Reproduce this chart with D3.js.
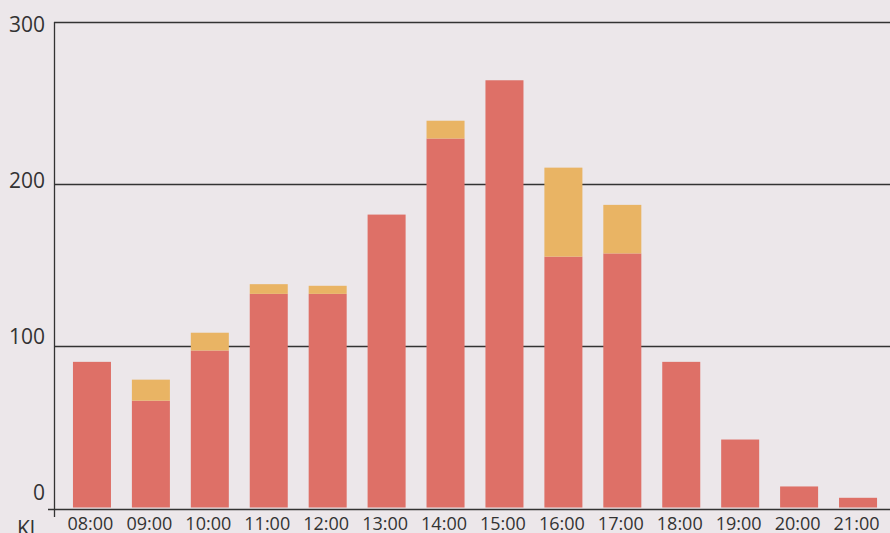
<!DOCTYPE html>
<html>
<head>
<meta charset="utf-8">
<script src="https://cdn.jsdelivr.net/npm/d3@7"></script>
<style>
  html, body { margin: 0; padding: 0; background: #ece7ea; }
  svg { display: block; }
  text { font-family: "Open Sans", sans-serif; fill: #333; }
</style>
</head>
<body>
<svg id="chart" width="890" height="533"></svg>
<script>
const categories = ["08:00","09:00","10:00","11:00","12:00","13:00","14:00","15:00","16:00","17:00","18:00","19:00","20:00","21:00"];
const seriesA = [90, 66, 97, 132, 132, 181, 228, 264, 155, 157, 90, 42, 13, 6];
const seriesB = [0, 13, 11, 6, 5, 0, 11, 0, 55, 30, 0, 0, 0, 0];
const yTicks = [0, 100, 200, 300];
const xAxisTitle = "Kl";

const colors = { a: "#de7067", b: "#e9b464", line: "#333" };
const W = 890, H = 533;
const svg = d3.select("#chart");

const x = d3.scaleBand().domain(categories).range([62.5, 887.5]).paddingInner(0.355).paddingOuter(0.1775);
const y = d3.scaleLinear().domain([0, 300]).range([507.5, 22]);
const yLabel = d3.scaleLinear().domain([0, 300]).range([499.7, 32.3]);

// gridlines
svg.append("g").selectAll("line").data(yTicks.filter(d => d > 0)).join("line")
  .attr("x1", 54).attr("x2", W)
  .attr("y1", d => Math.round(y(d)) + 0.5).attr("y2", d => Math.round(y(d)) + 0.5)
  .attr("stroke", colors.line).attr("stroke-width", 1.3);

// stacked bars
const data = categories.map((c, i) => ({ c, a: seriesA[i], b: seriesB[i] }));
const stack = d3.stack().keys(["a", "b"])(data);
svg.append("g").selectAll("g").data(stack).join("g")
  .attr("fill", d => colors[d.key])
  .selectAll("rect").data(d => d).join("rect")
  .attr("x", d => x(d.data.c))
  .attr("width", x.bandwidth())
  .attr("y", d => y(d[1]))
  .attr("height", d => Math.max(0, y(d[0]) - y(d[1])));

// axes lines
svg.append("line").attr("x1", 54.5).attr("x2", 54.5).attr("y1", y(300)).attr("y2", 517)
  .attr("stroke", colors.line).attr("stroke-width", 1.3);
svg.append("line").attr("x1", 48).attr("x2", W).attr("y1", 509.5).attr("y2", 509.5)
  .attr("stroke", colors.line).attr("stroke-width", 1.6);

// y labels
svg.append("g").selectAll("text").data(yTicks).join("text")
  .attr("x", 45).attr("y", d => yLabel(d))
  .attr("text-anchor", "end").attr("font-size", 21)
  .text(d => d);

// x labels
svg.append("g").selectAll("text").data(categories).join("text")
  .attr("x", d => x(d) + x.bandwidth() / 2 - 1.5).attr("y", 530)
  .attr("text-anchor", "middle").attr("font-size", 18)
  .text(d => d);

svg.append("text").attr("x", 17).attr("y", 536).attr("font-size", 21).text(xAxisTitle);
</script>
</body>
</html>
